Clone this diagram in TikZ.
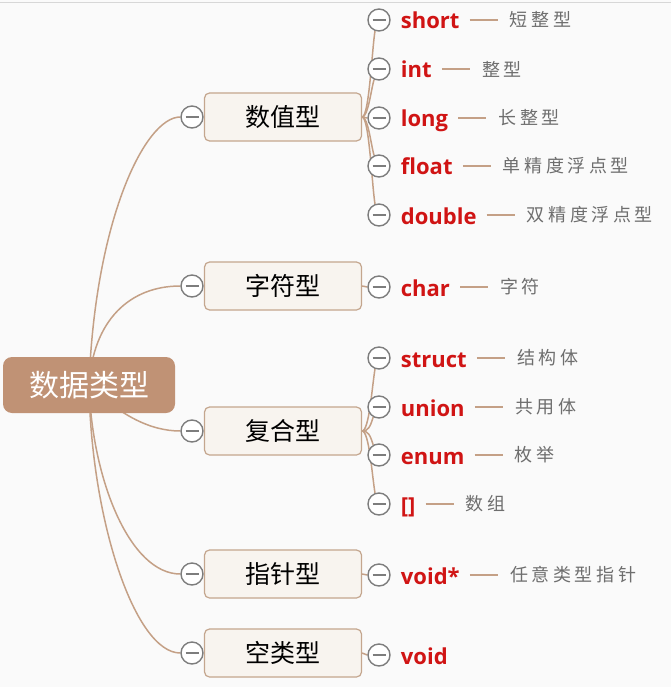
\documentclass[tikz,border=0pt]{standalone}
\usepackage{fontspec}
\newfontfamily\cjk{Noto Sans CJK SC}
\newfontfamily\descfont[LetterSpace=20]{Noto Sans CJK SC}
\newfontfamily\labfont{Open Sans}
\usetikzlibrary{positioning, backgrounds}
\definecolor{rootbrown}{RGB}{192,146,117}
\definecolor{boxfill}{RGB}{248,244,239}
\definecolor{boxline}{RGB}{196,166,142}
\definecolor{linkbrown}{RGB}{196,160,134}
\definecolor{foldgray}{RGB}{125,125,125}
\definecolor{typered}{RGB}{208,20,20}
\definecolor{descgray}{RGB}{110,110,110}
\definecolor{paper}{RGB}{250,250,250}
\definecolor{rulegray}{RGB}{215,215,215}

\begin{document}
\begin{tikzpicture}[
    x=1pt, y=-1pt,
    root/.style={rectangle, fill=rootbrown, rounded corners=9pt, minimum width=172pt, minimum height=56pt, text=white, font=\cjk\fontsize{30}{30}\selectfont},
    kind/.style={rectangle, draw=boxline, line width=1.2pt, fill=boxfill, rounded corners=5pt, minimum width=157pt, minimum height=48pt, font=\cjk\fontsize{25}{25}\selectfont},
    fold/.style={circle, draw=foldgray, line width=1.4pt, fill=white, minimum size=22pt, inner sep=0pt,
        path picture={\draw[foldgray, line width=1.4pt] ([xshift=-6.5pt]path picture bounding box.center) -- ([xshift=6.5pt]path picture bounding box.center);}},
    typename/.style={inner sep=0pt, text height=20pt, text depth=2pt, text=typered, font=\labfont\bfseries\fontsize{22}{22}\selectfont},
    note/.style={inner sep=0pt, text=descgray, font=\descfont\fontsize{18}{18}\selectfont},
    branch/.style={draw=linkbrown, line width=1.5pt},
    dashline/.style={draw=linkbrown, line width=1.4pt}
]

\useasboundingbox (0,0) rectangle (671,687);

% first level
\node[root] (root) at (89,385) {数据类型};
\node[kind] (num) at (283,117) {数值型};
\node[kind] (chr) at (283,286) {字符型};
\node[kind] (mix) at (283,431) {复合型};
\node[kind] (ptr) at (283,574) {指针型};
\node[kind] (emp) at (283,653) {空类型};

\node[fold] (fnum) at (192,117) {};
\node[fold] (fchr) at (192,286) {};
\node[fold] (fmix) at (192,431) {};
\node[fold] (fptr) at (192,574) {};
\node[fold] (femp) at (192,653) {};

% second level
\node[fold] (fshort) at (379,20) {};
\node[fold] (fint) at (379,69) {};
\node[fold] (flong) at (379,118) {};
\node[fold] (ffloat) at (379,166) {};
\node[fold] (fdouble) at (379,215) {};
\node[fold] (fchar) at (379,287) {};
\node[fold] (fstruct) at (379,358) {};
\node[fold] (funion) at (379,407) {};
\node[fold] (fenum) at (379,455) {};
\node[fold] (farr) at (379,504) {};
\node[fold] (fvoidp) at (379,575) {};
\node[fold] (fvoid) at (379,655) {};

\node[typename, right=10pt of fshort] (short) {short};
\node[typename, right=10pt of fint] (int) {int};
\node[typename, right=10pt of flong] (long) {long};
\node[typename, right=10pt of ffloat] (float) {float};
\node[typename, right=10pt of fdouble] (double) {double};
\node[typename, right=10pt of fchar] (char) {char};
\node[typename, right=10pt of fstruct] (struct) {struct};
\node[typename, right=10pt of funion] (union) {union};
\node[typename, right=10pt of fenum] (enum) {enum};
\node[typename, right=10pt of farr] (arr) {[]};
\node[typename, right=10pt of fvoidp] (voidp) {void*};
\node[typename, right=10pt of fvoid] (void) {void};

\node[note, right=50pt of short] (shortnote) {短整型};
\node[note, right=50pt of int] (intnote) {整型};
\node[note, right=50pt of long] (longnote) {长整型};
\node[note, right=50pt of float] (floatnote) {单精度浮点型};
\node[note, right=50pt of double] (doublenote) {双精度浮点型};
\node[note, right=50pt of char] (charnote) {字符};
\node[note, right=50pt of struct] (structnote) {结构体};
\node[note, right=50pt of union] (unionnote) {共用体};
\node[note, right=50pt of enum] (enumnote) {枚举};
\node[note, right=50pt of arr] (arrnote) {数组};
\node[note, right=50pt of voidp] (voidpnote) {任意类型指针};

\draw[dashline] ([xshift=10pt]short.east) -- ([xshift=-12pt]shortnote.west);
\draw[dashline] ([xshift=10pt]int.east) -- ([xshift=-12pt]intnote.west);
\draw[dashline] ([xshift=10pt]long.east) -- ([xshift=-12pt]longnote.west);
\draw[dashline] ([xshift=10pt]float.east) -- ([xshift=-12pt]floatnote.west);
\draw[dashline] ([xshift=10pt]double.east) -- ([xshift=-12pt]doublenote.west);
\draw[dashline] ([xshift=10pt]char.east) -- ([xshift=-12pt]charnote.west);
\draw[dashline] ([xshift=10pt]struct.east) -- ([xshift=-12pt]structnote.west);
\draw[dashline] ([xshift=10pt]union.east) -- ([xshift=-12pt]unionnote.west);
\draw[dashline] ([xshift=10pt]enum.east) -- ([xshift=-12pt]enumnote.west);
\draw[dashline] ([xshift=10pt]arr.east) -- ([xshift=-12pt]arrnote.west);
\draw[dashline] ([xshift=10pt]voidp.east) -- ([xshift=-12pt]voidpnote.west);

\begin{scope}[on background layer]
\fill[paper] (0,0) rectangle (671,687);
\draw[rulegray, line width=1pt] (0,3) -- (671,3);
% root branches
\draw[branch] (root.center) .. controls (95,220) and (145,117) .. (fnum.west);
\draw[branch] (root.center) .. controls (93,320) and (130,286) .. (fchr.west);
\draw[branch] (root.center) .. controls (120,415) and (150,431) .. (fmix.west);
\draw[branch] (root.center) .. controls (92,480) and (130,574) .. (fptr.west);
\draw[branch] (root.center) .. controls (91,520) and (135,653) .. (femp.west);
% box to circle
\draw[branch] (fnum) -- (num);
\draw[branch] (fchr) -- (chr);
\draw[branch] (fmix) -- (mix);
\draw[branch] (fptr) -- (ptr);
\draw[branch] (femp) -- (emp);
% children
\draw[branch] (num.east) .. controls +(7,0) and +(-3,18) .. (fshort.-110);
\draw[branch] (num.east) .. controls +(6,0) and +(-3,10) .. (fint.-115);
\draw[branch] (num.east) -- (flong.west);
\draw[branch] (num.east) .. controls +(6,0) and +(-3,-10) .. (ffloat.115);
\draw[branch] (num.east) .. controls +(7,0) and +(-3,-18) .. (fdouble.110);
\draw[branch] (chr.east) -- (fchar.west);
\draw[branch] (mix.east) .. controls +(7,0) and +(-3,18) .. (fstruct.-110);
\draw[branch] (mix.east) .. controls +(6,0) and +(-3,10) .. (funion.-120);
\draw[branch] (mix.east) .. controls +(6,0) and +(-3,-10) .. (fenum.120);
\draw[branch] (mix.east) .. controls +(7,0) and +(-3,-18) .. (farr.110);
\draw[branch] (ptr.east) -- (fvoidp.west);
\draw[branch] (emp.east) -- (fvoid.west);
\end{scope}

\end{tikzpicture}
\end{document}
